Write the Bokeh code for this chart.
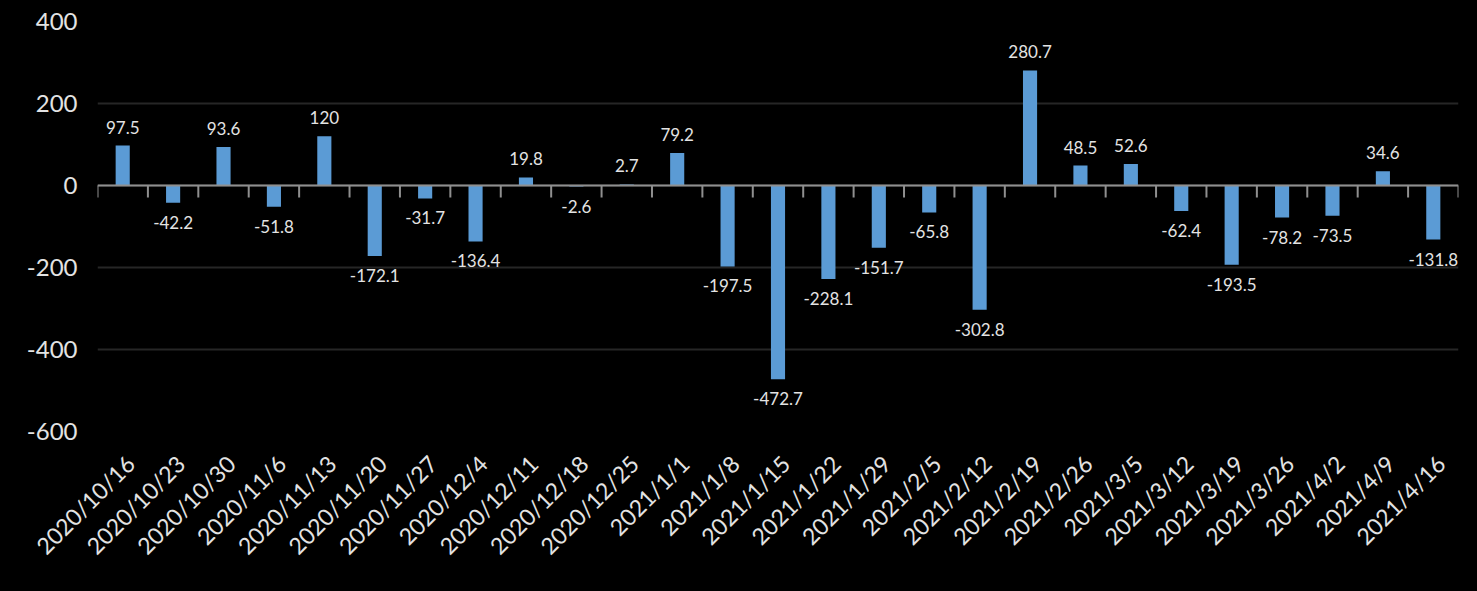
import math
from bokeh.plotting import figure
from bokeh.models import (ColumnDataSource, Range1d, FixedTicker,
                          LinearAxis, CustomJSTickFormatter)
from bokeh.core.properties import value
from bokeh.embed import file_html
from bokeh.resources import INLINE

dates = ["2020/10/16", "2020/10/23", "2020/10/30", "2020/11/6", "2020/11/13",
         "2020/11/20", "2020/11/27", "2020/12/4", "2020/12/11", "2020/12/18",
         "2020/12/25", "2021/1/1", "2021/1/8", "2021/1/15", "2021/1/22",
         "2021/1/29", "2021/2/5", "2021/2/12", "2021/2/19", "2021/2/26",
         "2021/3/5", "2021/3/12", "2021/3/19", "2021/3/26", "2021/4/2",
         "2021/4/9", "2021/4/16"]
values = [97.5, -42.2, 93.6, -51.8, 120, -172.1, -31.7, -136.4, 19.8, -2.6,
          2.7, 79.2, -197.5, -472.7, -228.1, -151.7, -65.8, -302.8, 280.7,
          48.5, 52.6, -62.4, -193.5, -78.2, -73.5, 34.6, -131.8]
y_ticks = [-600, -400, -200, 0, 200, 400]

FONT = "Lato"
TXT = "#e3e3e3"
n = len(dates)
xs = [i + 0.5 for i in range(n)]   # category centres

labels = [("%g" % v) for v in values]
src = ColumnDataSource(dict(
    x=xs, top=values, label=labels,
    yoff=[-12 if v >= 0 else 13 for v in values],
    base=["bottom" if v >= 0 else "top" for v in values],
))

p = figure(width=1461, height=575, x_range=Range1d(0, n),
           y_range=Range1d(-600, 400), output_backend="svg",
           toolbar_location=None,
           min_border_left=97, min_border_right=3, min_border_top=21,
           min_border_bottom=144)
p.background_fill_color = "#000000"
p.border_fill_color = "#000000"
p.outline_line_color = None

p.xgrid.grid_line_color = None
p.ygrid.grid_line_color = "#262626"
p.ygrid.grid_line_width = 2
p.yaxis.ticker = FixedTicker(ticks=y_ticks)
p.yaxis.formatter = CustomJSTickFormatter(code="return tick.toFixed(0);")
p.xaxis.visible = False

# label axis, shifted slightly right like the reference's rotated labels
shift = 0.15
p.extra_x_ranges = {"lab": Range1d(-shift, n - shift)}
lab_axis = LinearAxis(x_range_name="lab",
                      ticker=FixedTicker(ticks=xs),
                      formatter=CustomJSTickFormatter(
                          args=dict(names=dates),
                          code="return names[Math.round(tick - 0.5)];"))
p.add_layout(lab_axis, "below")

for ax in (lab_axis, p.yaxis[0]):
    ax.axis_line_color = None
    ax.major_tick_line_color = None
    ax.minor_tick_line_color = None
    ax.major_tick_out = 0
    ax.minor_tick_out = 0
    ax.major_label_text_color = TXT
    ax.major_label_text_font = FONT

p.yaxis.major_label_text_font_size = "24px"
p.yaxis.major_label_standoff = 20
lab_axis.major_label_text_font_size = "23px"
lab_axis.major_label_orientation = math.pi / 4
lab_axis.major_label_standoff = 28

p.vbar(x="x", top="top", bottom=0, width=0.28, source=src,
       fill_color="#5b9bd5", line_color=None)

# zero line with category boundary tick marks
p.segment(x0=[0], y0=[0], x1=[n], y1=[0], line_color="#8f8f8f", line_width=2)
p.segment(x0=list(range(n + 1)), y0=[0] * (n + 1), x1=list(range(n + 1)),
          y1=[-29] * (n + 1), line_color="#8f8f8f", line_width=2)

p.text(x="x", y="top", text="label", source=src, y_offset="yoff",
       text_baseline="base", text_align="center", text_color=TXT,
       text_font=value(FONT), text_font_size="17px")

html = file_html(p, INLINE)
html = html.replace("<body>", '<body style="background:#000000">')
open("out.html", "w").write(html)
